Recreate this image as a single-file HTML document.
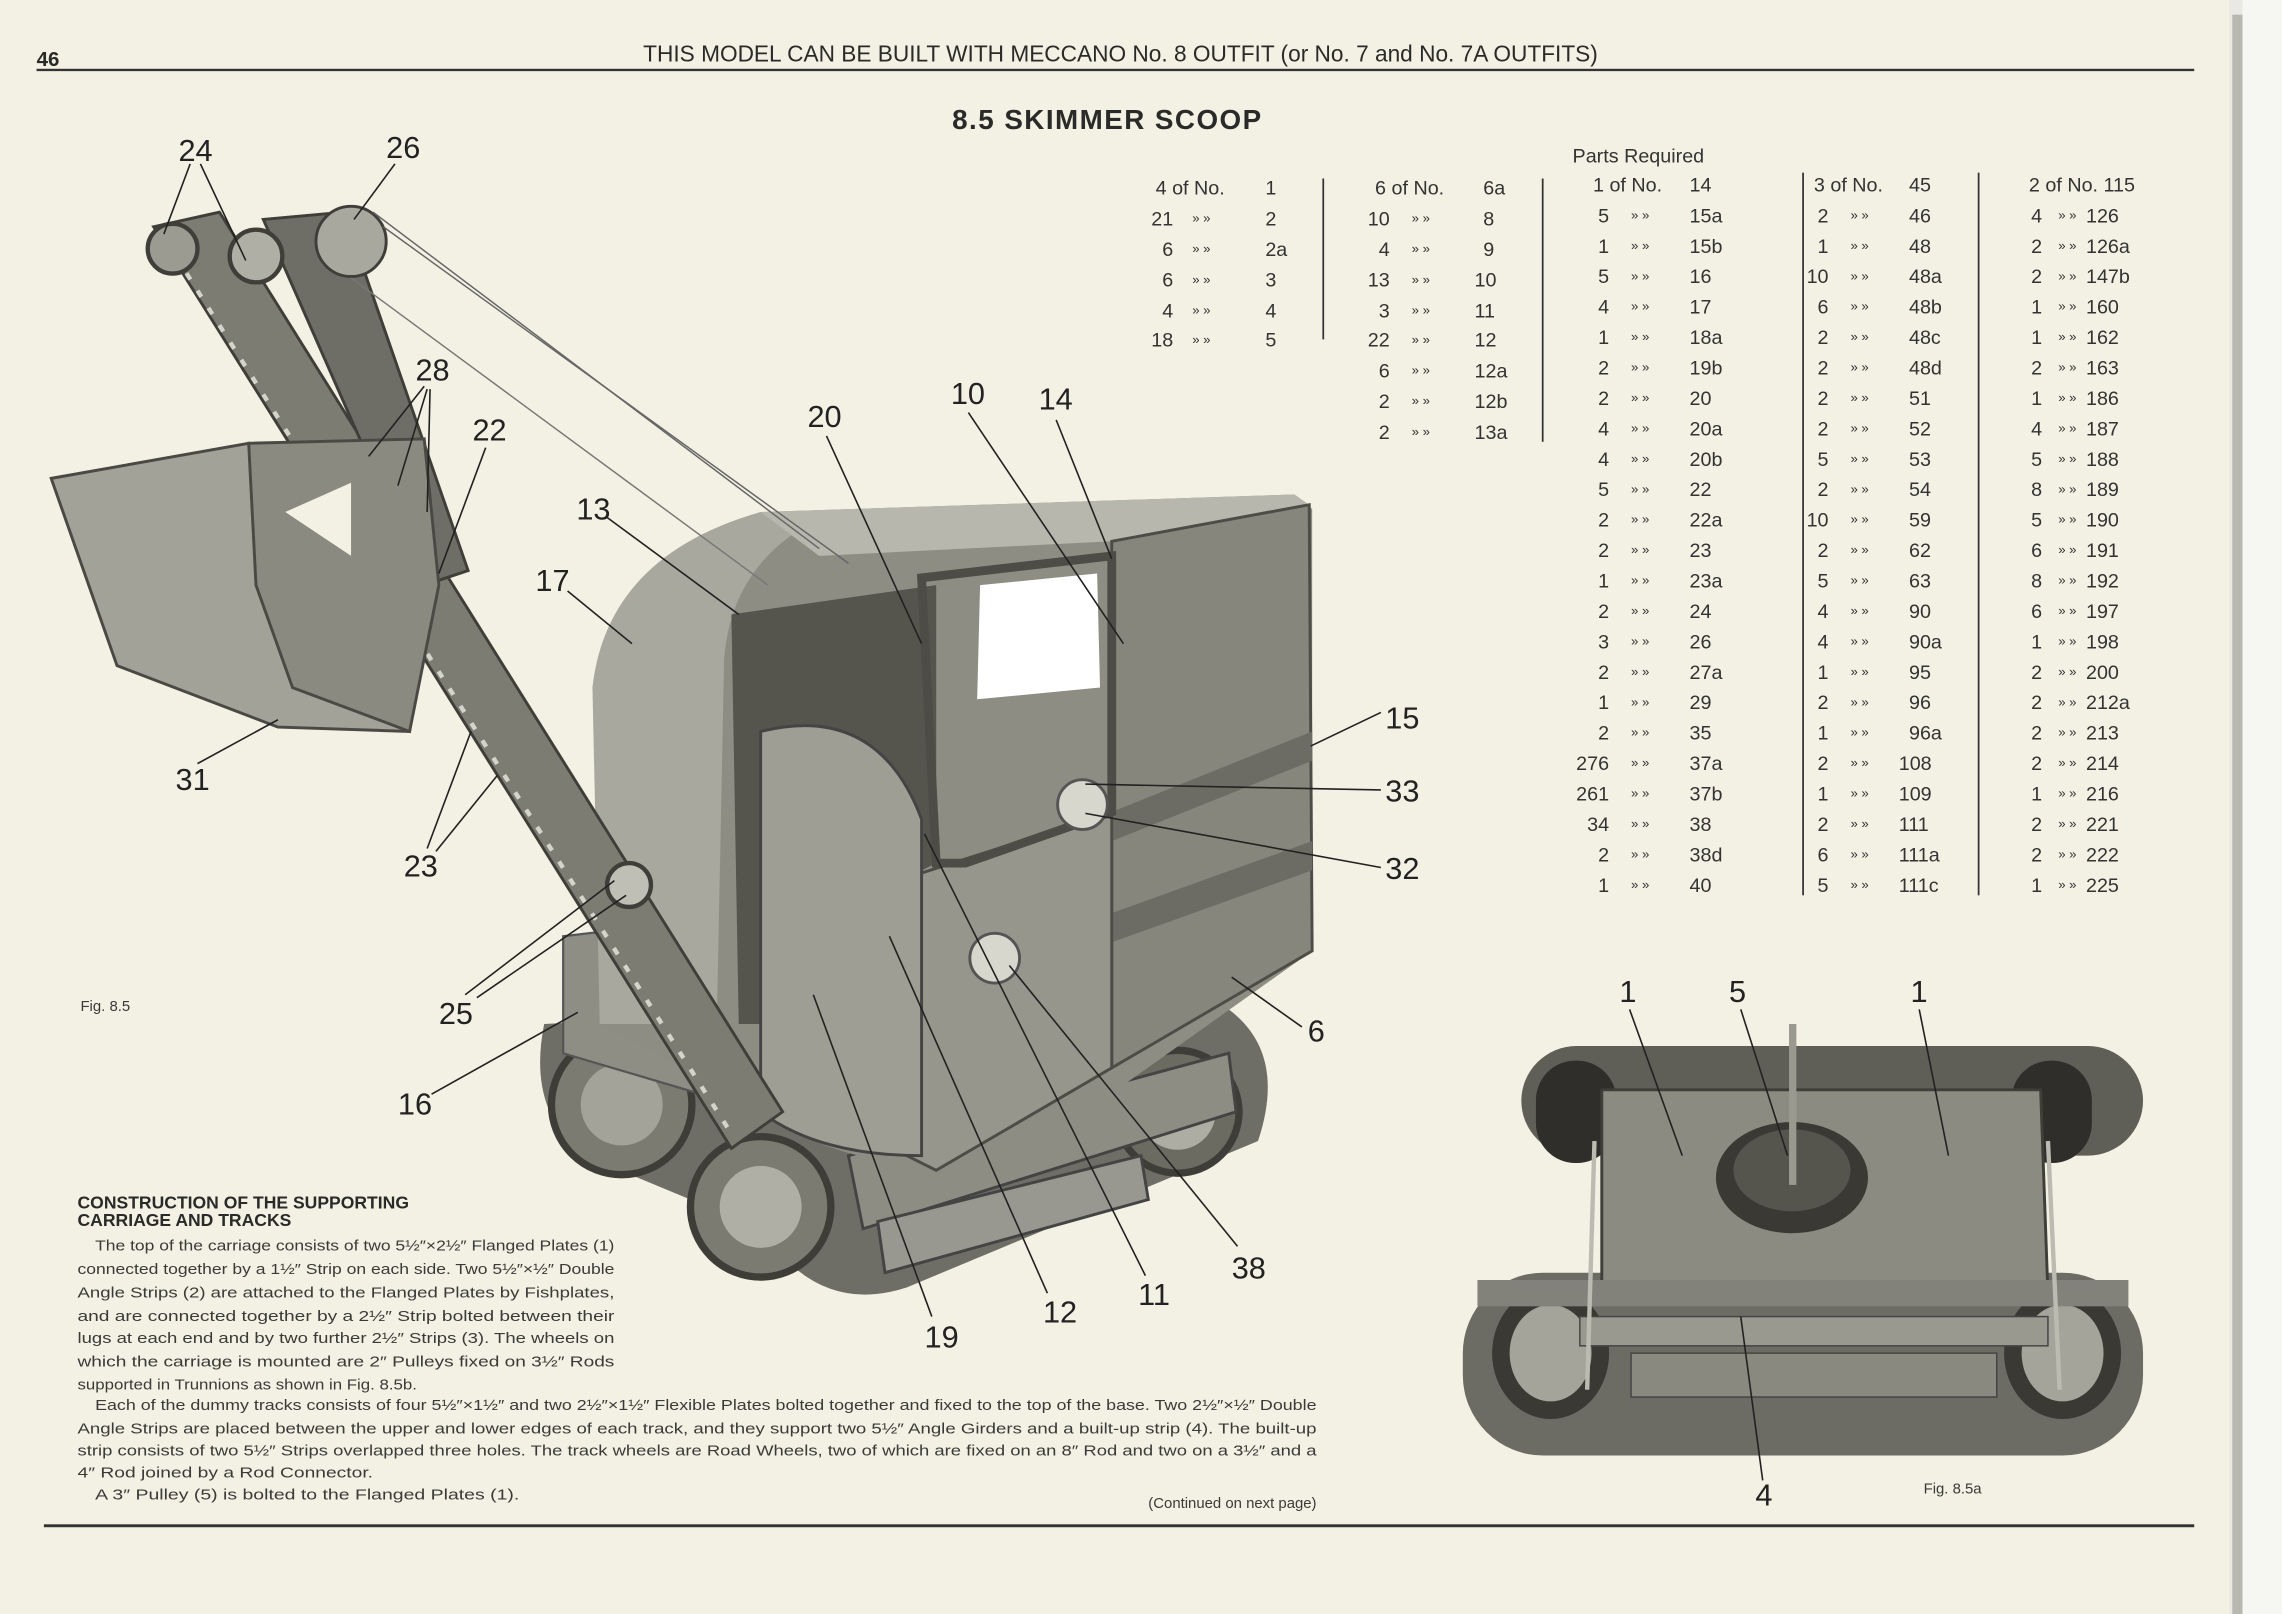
<!DOCTYPE html>
<html><head><meta charset="utf-8"><style>
html,body{margin:0;padding:0;background:#f3f1e3;}
svg{display:block}
.h{font-family:"Liberation Sans",sans-serif;fill:#2a2a28}
.n{font-family:"Liberation Sans Narrow","Liberation Sans",sans-serif;fill:#222;font-size:21px}
.t{font-family:"Liberation Sans",sans-serif;fill:#333;font-size:13.5px}
.b{font-family:"Liberation Sans",sans-serif;fill:#3a3a38;font-size:10.2px}
.q{font-size:9px}
.ld{stroke:#222;stroke-width:1.1;fill:none}
</style></head><body>
<svg width="2282" height="1614" viewBox="0 0 1560 1103.3" xmlns="http://www.w3.org/2000/svg">
<rect width="1560" height="1104" fill="#f3f1e3"/>
<rect x="1524" y="0" width="36" height="1104" fill="#e9e8e2"/>
<rect x="1526" y="10" width="7" height="1094" fill="#b9b8b0"/>
<rect x="1533" y="0" width="27" height="1104" fill="#f6f6f3"/>
<!-- header -->
<text x="25" y="45" class="h" font-size="14" font-weight="bold">46</text>
<text x="766" y="42" class="h" font-size="15.5" text-anchor="middle">THIS MODEL CAN BE BUILT WITH MECCANO No. 8 OUTFIT (or No. 7 and No. 7A OUTFITS)</text>
<rect x="25" y="47" width="1475" height="1.6" fill="#333"/>
<text x="757" y="88" class="h" font-size="19" font-weight="bold" text-anchor="middle" letter-spacing="1">8.5  SKIMMER SCOOP</text>
<text x="1075" y="111" class="t" font-size="14">Parts Required</text>
<!-- separators -->
<g fill="#333"><rect x="904" y="122" width="1.2" height="110"/><rect x="1054" y="122" width="1.2" height="180"/><rect x="1232" y="118" width="1.2" height="494"/><rect x="1352" y="118" width="1.2" height="494"/></g>
<!-- parts table -->
<g class="t">
<text x="790" y="133">4 of No.</text><text x="865" y="133">1</text>
<text x="802" y="154" text-anchor="end">21</text><text x="865" y="154">2</text>
<text x="802" y="175" text-anchor="end">6</text><text x="865" y="175">2a</text>
<text x="802" y="196" text-anchor="end">6</text><text x="865" y="196">3</text>
<text x="802" y="217" text-anchor="end">4</text><text x="865" y="217">4</text>
<text x="802" y="237" text-anchor="end">18</text><text x="865" y="237">5</text>
<g class="q"><text x="815" y="152">»   »</text><text x="815" y="173">»   »</text><text x="815" y="194">»   »</text><text x="815" y="215">»   »</text><text x="815" y="235">»   »</text></g>
<text x="940" y="133">6 of No.</text><text x="1014" y="133">6a</text>
<text x="950" y="154" text-anchor="end">10</text><text x="1014" y="154">8</text>
<text x="950" y="175" text-anchor="end">4</text><text x="1014" y="175">9</text>
<text x="950" y="196" text-anchor="end">13</text><text x="1008" y="196">10</text>
<text x="950" y="217" text-anchor="end">3</text><text x="1008" y="217">11</text>
<text x="950" y="237" text-anchor="end">22</text><text x="1008" y="237">12</text>
<text x="950" y="258" text-anchor="end">6</text><text x="1008" y="258">12a</text>
<text x="950" y="279" text-anchor="end">2</text><text x="1008" y="279">12b</text>
<text x="950" y="300" text-anchor="end">2</text><text x="1008" y="300">13a</text>
<g class="q"><text x="965" y="152">»   »</text><text x="965" y="173">»   »</text><text x="965" y="194">»   »</text><text x="965" y="215">»   »</text><text x="965" y="235">»   »</text><text x="965" y="256">»   »</text><text x="965" y="277">»   »</text><text x="965" y="298">»   »</text></g>
<text x="1089" y="131">1 of No.</text><text x="1155" y="131">14</text>
<text x="1240" y="131">3 of No.</text><text x="1305" y="131">45</text>
<text x="1387" y="131">2 of No. 115</text>
</g>
<g class="t">
<text y="152"><tspan x="1100" text-anchor="end">5</tspan><tspan class="q" x="1115" dy="-2">»    »</tspan><tspan x="1155" dy="2">15a</tspan><tspan x="1250" text-anchor="end">2</tspan><tspan class="q" x="1265" dy="-2">»    »</tspan><tspan x="1305" dy="2">46</tspan><tspan x="1396" text-anchor="end">4</tspan><tspan class="q" x="1407" dy="-2">»   »</tspan><tspan x="1426" dy="2">126</tspan></text>
<text y="172.8"><tspan x="1100" text-anchor="end">1</tspan><tspan class="q" x="1115" dy="-2">»    »</tspan><tspan x="1155" dy="2">15b</tspan><tspan x="1250" text-anchor="end">1</tspan><tspan class="q" x="1265" dy="-2">»    »</tspan><tspan x="1305" dy="2">48</tspan><tspan x="1396" text-anchor="end">2</tspan><tspan class="q" x="1407" dy="-2">»   »</tspan><tspan x="1426" dy="2">126a</tspan></text>
<text y="193.6"><tspan x="1100" text-anchor="end">5</tspan><tspan class="q" x="1115" dy="-2">»    »</tspan><tspan x="1155" dy="2">16</tspan><tspan x="1250" text-anchor="end">10</tspan><tspan class="q" x="1265" dy="-2">»    »</tspan><tspan x="1305" dy="2">48a</tspan><tspan x="1396" text-anchor="end">2</tspan><tspan class="q" x="1407" dy="-2">»   »</tspan><tspan x="1426" dy="2">147b</tspan></text>
<text y="214.4"><tspan x="1100" text-anchor="end">4</tspan><tspan class="q" x="1115" dy="-2">»    »</tspan><tspan x="1155" dy="2">17</tspan><tspan x="1250" text-anchor="end">6</tspan><tspan class="q" x="1265" dy="-2">»    »</tspan><tspan x="1305" dy="2">48b</tspan><tspan x="1396" text-anchor="end">1</tspan><tspan class="q" x="1407" dy="-2">»   »</tspan><tspan x="1426" dy="2">160</tspan></text>
<text y="235.2"><tspan x="1100" text-anchor="end">1</tspan><tspan class="q" x="1115" dy="-2">»    »</tspan><tspan x="1155" dy="2">18a</tspan><tspan x="1250" text-anchor="end">2</tspan><tspan class="q" x="1265" dy="-2">»    »</tspan><tspan x="1305" dy="2">48c</tspan><tspan x="1396" text-anchor="end">1</tspan><tspan class="q" x="1407" dy="-2">»   »</tspan><tspan x="1426" dy="2">162</tspan></text>
<text y="256"><tspan x="1100" text-anchor="end">2</tspan><tspan class="q" x="1115" dy="-2">»    »</tspan><tspan x="1155" dy="2">19b</tspan><tspan x="1250" text-anchor="end">2</tspan><tspan class="q" x="1265" dy="-2">»    »</tspan><tspan x="1305" dy="2">48d</tspan><tspan x="1396" text-anchor="end">2</tspan><tspan class="q" x="1407" dy="-2">»   »</tspan><tspan x="1426" dy="2">163</tspan></text>
<text y="276.8"><tspan x="1100" text-anchor="end">2</tspan><tspan class="q" x="1115" dy="-2">»    »</tspan><tspan x="1155" dy="2">20</tspan><tspan x="1250" text-anchor="end">2</tspan><tspan class="q" x="1265" dy="-2">»    »</tspan><tspan x="1305" dy="2">51</tspan><tspan x="1396" text-anchor="end">1</tspan><tspan class="q" x="1407" dy="-2">»   »</tspan><tspan x="1426" dy="2">186</tspan></text>
<text y="297.6"><tspan x="1100" text-anchor="end">4</tspan><tspan class="q" x="1115" dy="-2">»    »</tspan><tspan x="1155" dy="2">20a</tspan><tspan x="1250" text-anchor="end">2</tspan><tspan class="q" x="1265" dy="-2">»    »</tspan><tspan x="1305" dy="2">52</tspan><tspan x="1396" text-anchor="end">4</tspan><tspan class="q" x="1407" dy="-2">»   »</tspan><tspan x="1426" dy="2">187</tspan></text>
<text y="318.4"><tspan x="1100" text-anchor="end">4</tspan><tspan class="q" x="1115" dy="-2">»    »</tspan><tspan x="1155" dy="2">20b</tspan><tspan x="1250" text-anchor="end">5</tspan><tspan class="q" x="1265" dy="-2">»    »</tspan><tspan x="1305" dy="2">53</tspan><tspan x="1396" text-anchor="end">5</tspan><tspan class="q" x="1407" dy="-2">»   »</tspan><tspan x="1426" dy="2">188</tspan></text>
<text y="339.2"><tspan x="1100" text-anchor="end">5</tspan><tspan class="q" x="1115" dy="-2">»    »</tspan><tspan x="1155" dy="2">22</tspan><tspan x="1250" text-anchor="end">2</tspan><tspan class="q" x="1265" dy="-2">»    »</tspan><tspan x="1305" dy="2">54</tspan><tspan x="1396" text-anchor="end">8</tspan><tspan class="q" x="1407" dy="-2">»   »</tspan><tspan x="1426" dy="2">189</tspan></text>
<text y="360"><tspan x="1100" text-anchor="end">2</tspan><tspan class="q" x="1115" dy="-2">»    »</tspan><tspan x="1155" dy="2">22a</tspan><tspan x="1250" text-anchor="end">10</tspan><tspan class="q" x="1265" dy="-2">»    »</tspan><tspan x="1305" dy="2">59</tspan><tspan x="1396" text-anchor="end">5</tspan><tspan class="q" x="1407" dy="-2">»   »</tspan><tspan x="1426" dy="2">190</tspan></text>
<text y="380.8"><tspan x="1100" text-anchor="end">2</tspan><tspan class="q" x="1115" dy="-2">»    »</tspan><tspan x="1155" dy="2">23</tspan><tspan x="1250" text-anchor="end">2</tspan><tspan class="q" x="1265" dy="-2">»    »</tspan><tspan x="1305" dy="2">62</tspan><tspan x="1396" text-anchor="end">6</tspan><tspan class="q" x="1407" dy="-2">»   »</tspan><tspan x="1426" dy="2">191</tspan></text>
<text y="401.6"><tspan x="1100" text-anchor="end">1</tspan><tspan class="q" x="1115" dy="-2">»    »</tspan><tspan x="1155" dy="2">23a</tspan><tspan x="1250" text-anchor="end">5</tspan><tspan class="q" x="1265" dy="-2">»    »</tspan><tspan x="1305" dy="2">63</tspan><tspan x="1396" text-anchor="end">8</tspan><tspan class="q" x="1407" dy="-2">»   »</tspan><tspan x="1426" dy="2">192</tspan></text>
<text y="422.4"><tspan x="1100" text-anchor="end">2</tspan><tspan class="q" x="1115" dy="-2">»    »</tspan><tspan x="1155" dy="2">24</tspan><tspan x="1250" text-anchor="end">4</tspan><tspan class="q" x="1265" dy="-2">»    »</tspan><tspan x="1305" dy="2">90</tspan><tspan x="1396" text-anchor="end">6</tspan><tspan class="q" x="1407" dy="-2">»   »</tspan><tspan x="1426" dy="2">197</tspan></text>
<text y="443.2"><tspan x="1100" text-anchor="end">3</tspan><tspan class="q" x="1115" dy="-2">»    »</tspan><tspan x="1155" dy="2">26</tspan><tspan x="1250" text-anchor="end">4</tspan><tspan class="q" x="1265" dy="-2">»    »</tspan><tspan x="1305" dy="2">90a</tspan><tspan x="1396" text-anchor="end">1</tspan><tspan class="q" x="1407" dy="-2">»   »</tspan><tspan x="1426" dy="2">198</tspan></text>
<text y="464"><tspan x="1100" text-anchor="end">2</tspan><tspan class="q" x="1115" dy="-2">»    »</tspan><tspan x="1155" dy="2">27a</tspan><tspan x="1250" text-anchor="end">1</tspan><tspan class="q" x="1265" dy="-2">»    »</tspan><tspan x="1305" dy="2">95</tspan><tspan x="1396" text-anchor="end">2</tspan><tspan class="q" x="1407" dy="-2">»   »</tspan><tspan x="1426" dy="2">200</tspan></text>
<text y="484.8"><tspan x="1100" text-anchor="end">1</tspan><tspan class="q" x="1115" dy="-2">»    »</tspan><tspan x="1155" dy="2">29</tspan><tspan x="1250" text-anchor="end">2</tspan><tspan class="q" x="1265" dy="-2">»    »</tspan><tspan x="1305" dy="2">96</tspan><tspan x="1396" text-anchor="end">2</tspan><tspan class="q" x="1407" dy="-2">»   »</tspan><tspan x="1426" dy="2">212a</tspan></text>
<text y="505.6"><tspan x="1100" text-anchor="end">2</tspan><tspan class="q" x="1115" dy="-2">»    »</tspan><tspan x="1155" dy="2">35</tspan><tspan x="1250" text-anchor="end">1</tspan><tspan class="q" x="1265" dy="-2">»    »</tspan><tspan x="1305" dy="2">96a</tspan><tspan x="1396" text-anchor="end">2</tspan><tspan class="q" x="1407" dy="-2">»   »</tspan><tspan x="1426" dy="2">213</tspan></text>
<text y="526.4"><tspan x="1100" text-anchor="end">276</tspan><tspan class="q" x="1115" dy="-2">»    »</tspan><tspan x="1155" dy="2">37a</tspan><tspan x="1250" text-anchor="end">2</tspan><tspan class="q" x="1265" dy="-2">»    »</tspan><tspan x="1298" dy="2">108</tspan><tspan x="1396" text-anchor="end">2</tspan><tspan class="q" x="1407" dy="-2">»   »</tspan><tspan x="1426" dy="2">214</tspan></text>
<text y="547.2"><tspan x="1100" text-anchor="end">261</tspan><tspan class="q" x="1115" dy="-2">»    »</tspan><tspan x="1155" dy="2">37b</tspan><tspan x="1250" text-anchor="end">1</tspan><tspan class="q" x="1265" dy="-2">»    »</tspan><tspan x="1298" dy="2">109</tspan><tspan x="1396" text-anchor="end">1</tspan><tspan class="q" x="1407" dy="-2">»   »</tspan><tspan x="1426" dy="2">216</tspan></text>
<text y="568"><tspan x="1100" text-anchor="end">34</tspan><tspan class="q" x="1115" dy="-2">»    »</tspan><tspan x="1155" dy="2">38</tspan><tspan x="1250" text-anchor="end">2</tspan><tspan class="q" x="1265" dy="-2">»    »</tspan><tspan x="1298" dy="2">111</tspan><tspan x="1396" text-anchor="end">2</tspan><tspan class="q" x="1407" dy="-2">»   »</tspan><tspan x="1426" dy="2">221</tspan></text>
<text y="588.8"><tspan x="1100" text-anchor="end">2</tspan><tspan class="q" x="1115" dy="-2">»    »</tspan><tspan x="1155" dy="2">38d</tspan><tspan x="1250" text-anchor="end">6</tspan><tspan class="q" x="1265" dy="-2">»    »</tspan><tspan x="1298" dy="2">111a</tspan><tspan x="1396" text-anchor="end">2</tspan><tspan class="q" x="1407" dy="-2">»   »</tspan><tspan x="1426" dy="2">222</tspan></text>
<text y="609.6"><tspan x="1100" text-anchor="end">1</tspan><tspan class="q" x="1115" dy="-2">»    »</tspan><tspan x="1155" dy="2">40</tspan><tspan x="1250" text-anchor="end">5</tspan><tspan class="q" x="1265" dy="-2">»    »</tspan><tspan x="1298" dy="2">111c</tspan><tspan x="1396" text-anchor="end">1</tspan><tspan class="q" x="1407" dy="-2">»   »</tspan><tspan x="1426" dy="2">225</tspan></text>
</g>
<!-- main illustration -->
<g>
<path d="M372,700 Q360,760 400,790 L520,840 Q560,900 620,880 L860,780 Q880,720 840,690 L560,690 Z" fill="#6f6e66"/>
<circle cx="425" cy="755" r="48" fill="#7c7b72" stroke="#3e3d38" stroke-width="5"/>
<circle cx="425" cy="755" r="28" fill="#a4a399"/>
<circle cx="520" cy="825" r="48" fill="#7c7b72" stroke="#3e3d38" stroke-width="5"/>
<circle cx="520" cy="825" r="28" fill="#b0afa5"/>
<circle cx="805" cy="760" r="42" fill="#6c6b62" stroke="#3e3d38" stroke-width="5"/>
<circle cx="805" cy="760" r="26" fill="#aeada3"/>
<path d="M580,790 L840,720 L845,760 L590,840 Z" fill="#8e8d83" stroke="#444" stroke-width="2"/>
<path d="M600,835 L780,790 L785,820 L605,870 Z" fill="#999890" stroke="#444" stroke-width="2"/>
<path d="M385,640 L470,630 L520,760 L385,720 Z" fill="#8f8e84" stroke="#555" stroke-width="1.5"/>
<path d="M410,480 Q420,385 520,350 L885,338 L897,348 L897,650 L700,790 L640,800 Q560,790 520,760 L410,700 Z" fill="#8e8d84"/>
<path d="M405,470 Q415,380 520,350 L550,360 Q500,390 495,450 L490,700 L410,700 Z" fill="#a9a89e"/>
<path d="M520,350 L885,338 L895,345 L760,370 L560,380 Z" fill="#b8b7ad"/>
<path d="M760,370 L895,345 L897,650 L760,730 Z" fill="#87867c" stroke="#4d4c46" stroke-width="2"/>
<path d="M760,555 L897,500 L897,520 L760,575 Z" fill="#6d6c64"/>
<path d="M660,660 L897,575 L897,595 L660,680 Z" fill="#6d6c64"/>
<path d="M620,600 L760,555 L760,730 L640,800 L620,790 Z" fill="#97968c" stroke="#4d4c46" stroke-width="2"/>
<path d="M500,420 L640,400 L640,590 L620,600 L620,700 L505,700 Z" fill="#55544d"/>
<path d="M520,500 Q600,480 630,560 L630,790 Q560,790 520,760 Z" fill="#9f9e94" stroke="#444" stroke-width="2"/>
<path d="M670,400 L750,392 L752,470 L668,478 Z" fill="#ffffff"/>
<path d="M630,395 L760,380 L760,555 L660,590 L640,590 Z" fill="none" stroke="#4d4c46" stroke-width="6"/>
<circle cx="740" cy="550" r="17" fill="#d8d7ce" stroke="#555" stroke-width="2"/>
<circle cx="680" cy="655" r="17" fill="#d8d7ce" stroke="#555" stroke-width="2"/>
<path d="M105,155 L150,145 L535,760 L500,785 Z" fill="#7d7c73" stroke="#3f3e39" stroke-width="2"/>
<path d="M180,150 L235,145 L320,390 L290,400 Z" fill="#6f6e66" stroke="#3f3e39" stroke-width="2"/>
<path d="M120,175 L500,775" stroke="#d5d4cb" stroke-width="3" stroke-dasharray="5 9"/>
<path d="M35,327 L170,303 L290,390 L280,500 L190,497 L80,455 Z" fill="#a3a298" stroke="#4a4944" stroke-width="2"/>
<path d="M170,303 L290,300 L300,400 L280,500 L200,470 L175,400 Z" fill="#8b8a80" stroke="#4a4944" stroke-width="2"/>
<path d="M195,350 L240,330 L240,380 Z" fill="#f3f1e3"/>
<circle cx="118" cy="170" r="17" fill="#9c9b91" stroke="#3f3e39" stroke-width="3"/>
<circle cx="175" cy="175" r="18" fill="#b0afa5" stroke="#3f3e39" stroke-width="3"/>
<circle cx="240" cy="165" r="24" fill="#a9a89e" stroke="#3f3e39" stroke-width="2"/>
<circle cx="430" cy="605" r="15" fill="#c0bfb5" stroke="#3f3e39" stroke-width="3"/>
<line x1="255" y1="145" x2="560" y2="375" stroke="#666" stroke-width="1"/>
<line x1="262" y1="155" x2="580" y2="385" stroke="#666" stroke-width="1"/>
<line x1="240" y1="190" x2="525" y2="400" stroke="#777" stroke-width="1"/>
</g>
<!-- fig 8.5a -->
<g>
<rect x="1040" y="715" width="425" height="75" rx="38" fill="#5f5e57"/>
<rect x="1000" y="870" width="465" height="125" rx="55" fill="#6d6c64"/>
<rect x="1050" y="725" width="55" height="70" rx="27" fill="#2f2e2a"/>
<rect x="1375" y="725" width="55" height="70" rx="27" fill="#2f2e2a"/>
<ellipse cx="1060" cy="925" rx="40" ry="45" fill="#3a3934"/>
<ellipse cx="1410" cy="925" rx="40" ry="45" fill="#3a3934"/>
<ellipse cx="1060" cy="925" rx="28" ry="33" fill="#a5a49a"/>
<ellipse cx="1410" cy="925" rx="28" ry="33" fill="#a5a49a"/>
<path d="M1095,745 L1395,745 L1400,885 L1095,885 Z" fill="#8c8b81" stroke="#3f3e39" stroke-width="2"/>
<rect x="1010" y="875" width="445" height="18" fill="#82817a"/>
<rect x="1080" y="900" width="320" height="20" fill="#9a998f" stroke="#444"/>
<rect x="1115" y="925" width="250" height="30" fill="#8a8980" stroke="#444"/>
<ellipse cx="1225" cy="805" rx="52" ry="38" fill="#3a3934"/>
<ellipse cx="1225" cy="800" rx="40" ry="28" fill="#55544d"/>
<rect x="1223" y="700" width="5" height="110" fill="#9a998f"/>
<line x1="1090" y1="780" x2="1085" y2="950" stroke="#bcbbb1" stroke-width="3"/>
<line x1="1400" y1="780" x2="1408" y2="950" stroke="#bcbbb1" stroke-width="3"/>
</g>
<!-- labels -->
<g class="n">
<text x="122" y="110">24</text><text x="264" y="108">26</text><text x="284" y="260">28</text><text x="323" y="301">22</text>
<text x="120" y="540">31</text><text x="276" y="599">23</text><text x="300" y="700">25</text><text x="272" y="762">16</text>
<text x="366" y="404">17</text><text x="394" y="355">13</text><text x="552" y="292">20</text><text x="650" y="276">10</text><text x="710" y="280">14</text>
<text x="947" y="498">15</text><text x="947" y="548">33</text><text x="947" y="601">32</text><text x="894" y="712">6</text>
<text x="842" y="874">38</text><text x="778" y="892">11</text><text x="713" y="904">12</text><text x="632" y="921">19</text>
<text x="1107" y="685">1</text><text x="1182" y="685">5</text><text x="1306" y="685">1</text><text x="1200" y="1029">4</text>
</g>
<g class="ld">
<path d="M130,112 L112,160 M137,112 L168,178"/><path d="M270,112 L242,150"/>
<path d="M290,264 L252,312 M292,266 L272,332 M294,266 L292,350"/><path d="M332,306 L300,392"/>
<path d="M135,522 L190,492"/><path d="M292,580 L322,500 M298,582 L340,530"/>
<path d="M318,680 L420,602 M326,682 L428,612"/><path d="M295,748 L395,692"/>
<path d="M388,404 L432,440"/><path d="M414,353 L505,420"/><path d="M565,298 L630,440"/>
<path d="M662,282 L768,440"/><path d="M722,287 L760,382"/>
<path d="M944,487 L896,510"/><path d="M944,540 L742,536"/><path d="M944,593 L742,556"/>
<path d="M890,702 L842,668"/><path d="M846,852 L690,660"/><path d="M783,872 L632,570"/>
<path d="M716,884 L608,640"/><path d="M637,900 L556,680"/>
<path d="M1114,690 L1150,790"/><path d="M1190,690 L1222,790"/><path d="M1312,690 L1332,790"/><path d="M1205,1012 L1190,900"/>
</g>
<text x="55" y="691" class="b" font-size="9">Fig. 8.5</text>
<text x="1315" y="1021" class="b" font-size="9">Fig. 8.5a</text>
<!-- body text -->
<text x="53" y="826" class="h" font-size="12" font-weight="bold">CONSTRUCTION OF THE SUPPORTING</text>
<text x="53" y="838" class="h" font-size="12" font-weight="bold">CARRIAGE AND TRACKS</text>
<g class="b">
<text x="65" y="855" textLength="355" lengthAdjust="spacingAndGlyphs">The top of the carriage consists of two 5½″×2½″ Flanged Plates (1)</text>
<text x="53" y="871" textLength="367" lengthAdjust="spacingAndGlyphs">connected together by a 1½″ Strip on each side. Two 5½″×½″ Double</text>
<text x="53" y="887" textLength="367" lengthAdjust="spacingAndGlyphs">Angle Strips (2) are attached to the Flanged Plates by Fishplates,</text>
<text x="53" y="903" textLength="367" lengthAdjust="spacingAndGlyphs">and are connected together by a 2½″ Strip bolted between their</text>
<text x="53" y="918" textLength="367" lengthAdjust="spacingAndGlyphs">lugs at each end and by two further 2½″ Strips (3). The wheels on</text>
<text x="53" y="934" textLength="367" lengthAdjust="spacingAndGlyphs">which the carriage is mounted are 2″ Pulleys fixed on 3½″ Rods</text>
<text x="53" y="950" textLength="232" lengthAdjust="spacingAndGlyphs">supported in Trunnions as shown in Fig. 8.5b.</text>
<text x="65" y="964" textLength="835" lengthAdjust="spacingAndGlyphs">Each of the dummy tracks consists of four 5½″×1½″ and two 2½″×1½″ Flexible Plates bolted together and fixed to the top of the base. Two 2½″×½″ Double</text>
<text x="53" y="980" textLength="847" lengthAdjust="spacingAndGlyphs">Angle Strips are placed between the upper and lower edges of each track, and they support two 5½″ Angle Girders and a built-up strip (4). The built-up</text>
<text x="53" y="995" textLength="847" lengthAdjust="spacingAndGlyphs">strip consists of two 5½″ Strips overlapped three holes. The track wheels are Road Wheels, two of which are fixed on an 8″ Rod and two on a 3½″ and a</text>
<text x="53" y="1010" textLength="202" lengthAdjust="spacingAndGlyphs">4″ Rod joined by a Rod Connector.</text>
<text x="65" y="1025" textLength="290" lengthAdjust="spacingAndGlyphs">A 3″ Pulley (5) is bolted to the Flanged Plates (1).</text>
<text x="900" y="1031" text-anchor="end">(Continued on next page)</text>
</g>
<rect x="30" y="1042" width="1470" height="2" fill="#333"/>
</svg>
</body></html>
